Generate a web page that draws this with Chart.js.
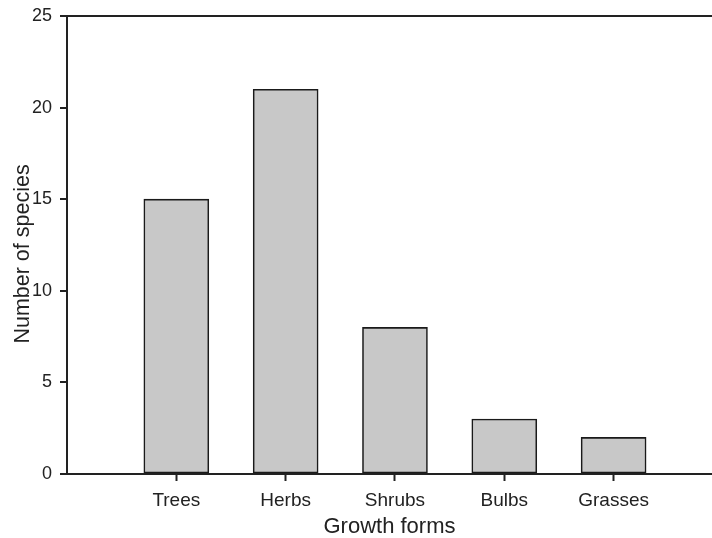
<!DOCTYPE html>
<html lang="en">
<head>
    <meta charset="UTF-8">
    <title>Growth forms</title>
    <script src="https://cdn.jsdelivr.net/npm/chart.js@4/dist/chart.umd.min.js"></script>
    <style>
        body {
            margin: 0;
            padding: 0;
            background: #ffffff;
        }
        #wrap {
            width: 712px;
            height: 538px;
        }
    </style>
</head>
<body>
    <div id="wrap">
        <canvas id="growthChart" width="712" height="538"></canvas>
    </div>
    <script>
        // data
        const categories = ['Trees', 'Herbs', 'Shrubs', 'Bulbs', 'Grasses'];
        const speciesCounts = [15, 21, 8, 3, 2];
        const yTicks = [0, 5, 10, 15, 20, 25];

        const ink = '#222222';
        const fontFamily = '"Liberation Sans", Arial, sans-serif';

        const points = categories.map((c, i) => ({ x: i + 1, y: speciesCounts[i] }));

        const ctx = document.getElementById('growthChart').getContext('2d');
        new Chart(ctx, {
            type: 'bar',
            data: {
                datasets: [{
                    data: points,
                    backgroundColor: '#c8c8c8',
                    borderColor: '#1a1a1a',
                    borderWidth: 1.6,
                    borderSkipped: false,
                    barThickness: 65
                }]
            },
            options: {
                responsive: false,
                animation: false,
                layout: { padding: { top: 16, right: 0, bottom: 0, left: 0 } },
                plugins: {
                    legend: { display: false },
                    tooltip: { enabled: false }
                },
                scales: {
                    x: {
                        type: 'linear',
                        offset: false,
                        min: 0,
                        max: 5.9,
                        afterBuildTicks: (scale) => {
                            scale.ticks = categories.map((c, i) => ({ value: i + 1 }));
                        },
                        afterFit: (scale) => {
                            scale.height = 64;
                            scale.paddingLeft = 0;
                            scale.paddingRight = 0;
                        },
                        ticks: {
                            callback: (v) => categories[v - 1],
                            color: ink,
                            font: { family: fontFamily, size: 19 },
                            padding: 8,
                            maxRotation: 0
                        },
                        grid: {
                            offset: false,
                            drawOnChartArea: false,
                            drawTicks: true,
                            tickLength: 7,
                            tickColor: ink,
                            tickWidth: 2
                        },
                        border: { color: ink, width: 2 },
                        title: {
                            display: true,
                            text: 'Growth forms',
                            color: ink,
                            font: { family: fontFamily, size: 22, lineHeight: 1.0 },
                            padding: { top: 0, bottom: 0 }
                        }
                    },
                    y: {
                        min: 0,
                        max: 25,
                        afterBuildTicks: (scale) => {
                            scale.ticks = yTicks.map(v => ({ value: v }));
                        },
                        afterFit: (scale) => {
                            scale.width = 67;
                            scale.paddingTop = 0;
                            scale.paddingBottom = 0;
                        },
                        ticks: {
                            color: ink,
                            font: { family: fontFamily, size: 18 },
                            padding: 8
                        },
                        grid: {
                            color: (c) => (c.tick && c.tick.value === 25 ? ink : 'rgba(0,0,0,0)'),
                            lineWidth: 2,
                            tickLength: 7,
                            tickColor: ink,
                            tickWidth: 2
                        },
                        border: { color: ink, width: 2 },
                        title: {
                            display: true,
                            // trailing spaces nudge the label down a little, as in the figure
                            text: 'Number of species   ',
                            color: ink,
                            font: { family: fontFamily, size: 21.5, lineHeight: 1.0 },
                            padding: { top: 12, bottom: 0 }
                        }
                    }
                }
            }
        });
    </script>
</body>
</html>
